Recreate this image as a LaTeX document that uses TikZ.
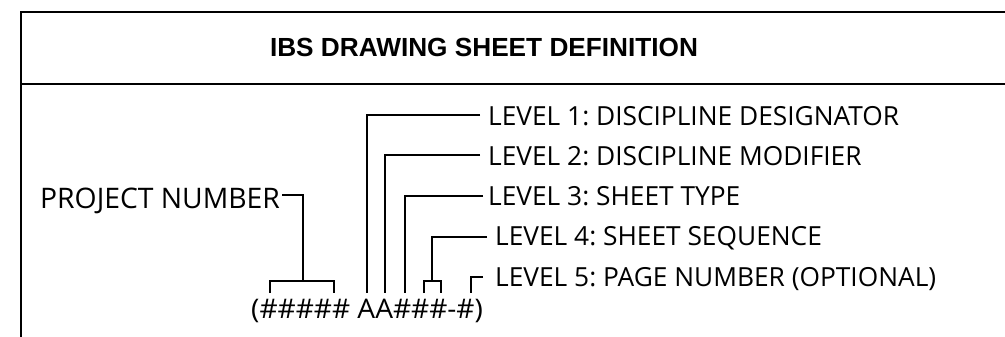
\documentclass[tikz,border=0pt]{standalone}
\usepackage{fontspec}
\setmainfont{Open Sans}
\newfontfamily\titlefont{Liberation Sans}
\usepackage{graphicx}
\frenchspacing
\begin{document}
\begin{tikzpicture}[x=1pt,y=-1pt,
  frame/.style={line width=1.6pt,black},
  leader/.style={line width=1.6pt,black},
  lbl/.style={anchor=base west,inner sep=0pt,font=\fontsize{26.3}{30}\selectfont},
  ttl/.style={anchor=base,inner sep=0pt,font=\titlefont\bfseries\fontsize{26.2}{30}\selectfont}]
\useasboundingbox (0,0) rectangle (1005,337);
% frame
\draw[frame] (1005,12) -- (21,12) -- (21,337);
\draw[frame] (21,84) -- (1005,84);
\node[ttl] (title) at (484,57) {IBS DRAWING SHEET DEFINITION};
% labels
\node[lbl] (l1) at (488,125) {LEVEL 1: DISCIPLINE DESIGNATOR};
\node[lbl] (l2) at (488,165) {LEVEL 2: DISCIPLINE MODIFIER};
\node[lbl] (l3) at (488,205) {LEVEL 3: SHEET TYPE};
\node[lbl] (l4) at (495,245) {LEVEL 4: SHEET SEQUENCE};
\node[lbl] (l5) at (495,286) {LEVEL 5: PAGE NUMBER (OPTIONAL)};
\node[lbl,font=\fontsize{28.3}{32}\selectfont] (pn) at (40,208) {PROJECT NUMBER};
\node[lbl,font=\fontsize{27}{32}\selectfont] (code) at (251,318) {\scalebox{1.04}[1]{(\#\#\#\#\# AA\#\#\#-\#)}};
% leader anchor points
\coordinate (a1) at (367,293);
\coordinate (a2) at (385,293);
\coordinate (a3) at (405,293);
\coordinate (a4) at (432,281);
\coordinate (a5) at (471,293);
\coordinate (p0) at (303,281);
% leaders
\draw[leader] ([xshift=-8pt,yshift=10pt]l1.base west) -| (a1);
\draw[leader] ([xshift=-8pt,yshift=10pt]l2.base west) -| (a2);
\draw[leader] ([xshift=-5pt,yshift=9pt]l3.base west) -| (a3);
\draw[leader] ([xshift=-8pt,yshift=8pt]l4.base west) -| (a4);
\draw[leader] (424,293) -- (424,281) -- (441,281) -- (441,293);
\draw[leader] ([xshift=-12pt,yshift=9pt]l5.base west) -| (a5);
\draw[leader] ([xshift=2pt,yshift=13pt]pn.base east) -| (p0);
\draw[leader] (270,293) -- (270,281) -- (334,281) -- (334,293);
\end{tikzpicture}
\end{document}
